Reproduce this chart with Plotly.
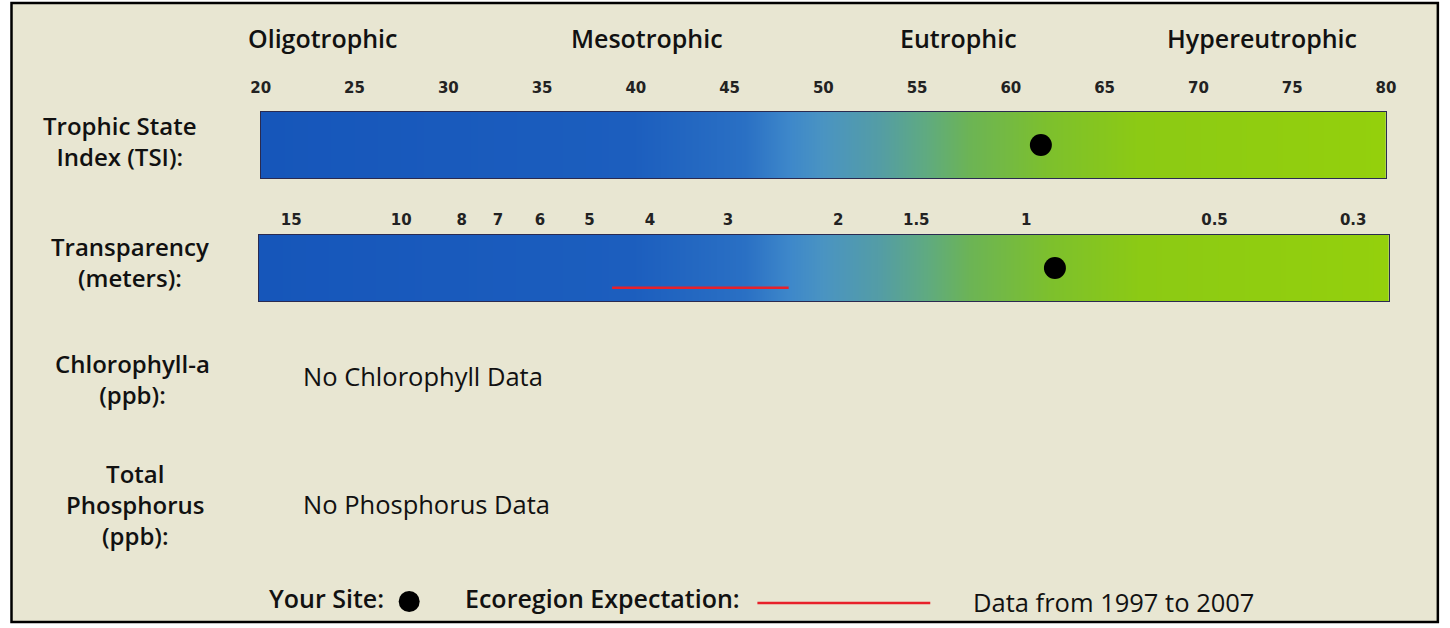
import numpy as np
import plotly.graph_objects as go

# --- data -------------------------------------------------------------
tsi_ticks = [20, 25, 30, 35, 40, 45, 50, 55, 60, 65, 70, 75, 80]
secchi_ticks = [15, 10, 8, 7, 6, 5, 4, 3, 2, 1.5, 1, 0.5, 0.3]
secchi_labels = ["15", "10", "8", "7", "6", "5", "4", "3", "2", "1.5", "1", "0.5", "0.3"]

trophic_classes = ["Oligotrophic", "Mesotrophic", "Eutrophic", "Hypereutrophic"]
trophic_label_pos = [23.3, 40.6, 57.2, 73.4]

site_tsi = 61.6
site_secchi = 0.9
ecoregion_secchi = [4.6, 2.4]

row_labels = ["Trophic State<br>Index (TSI):", "Transparency<br>(meters):",
              "Chlorophyll-a<br>(ppb):", "Total<br>Phosphorus<br>(ppb):"]
no_data_notes = ["No Chlorophyll Data", "No Phosphorus Data"]
period_note = "Data from 1997 to 2007"

# colour ramp along the TSI scale
ramp = [
    [0.00, "rgb(22,86,186)"],
    [0.33, "rgb(28,94,190)"],
    [0.43, "rgb(42,112,196)"],
    [0.47, "rgb(62,136,202)"],
    [0.50, "rgb(74,148,194)"],
    [0.55, "rgb(84,157,165)"],
    [0.59, "rgb(95,170,130)"],
    [0.63, "rgb(108,180,85)"],
    [0.70, "rgb(125,192,45)"],
    [0.78, "rgb(140,202,20)"],
    [1.00, "rgb(148,208,12)"],
]

W, H = 1450, 628
FONT = "Open Sans"


def px(x):
    # horizontal placement, tuned against the captured page
    return (x - 9) / 0.987 / W


def py(y):
    return 1 - y / H


fig = go.Figure()

# gradient bars (TSI scale, also under the transparency row)
fig.add_trace(go.Heatmap(x=tsi_ticks, y=[0.5], z=[tsi_ticks], colorscale=ramp,
                         zsmooth="best", showscale=False, hoverinfo="skip",
                         xaxis="x", yaxis="y"))
fig.add_trace(go.Heatmap(x=tsi_ticks, y=[0.5], z=[tsi_ticks], colorscale=ramp,
                         zsmooth="best", showscale=False, hoverinfo="skip",
                         xaxis="x2", yaxis="y2"))

# site markers
fig.add_trace(go.Scatter(x=[site_tsi], y=[0.5], mode="markers",
                         marker=dict(color="black", size=22),
                         showlegend=False, xaxis="x", yaxis="y"))
fig.add_trace(go.Scatter(x=[site_secchi], y=[0.5], mode="markers",
                         marker=dict(color="black", size=22),
                         showlegend=False, xaxis="x3", yaxis="y2"))
# ecoregion expectation
fig.add_trace(go.Scatter(x=ecoregion_secchi, y=[0.2, 0.2], mode="lines",
                         line=dict(color="#e8202a", width=2.5),
                         showlegend=False, xaxis="x3", yaxis="y2"))

tick_font = dict(family="DejaVu Sans", size=15, color="#222", weight="bold")
bar_line = dict(showline=True, linecolor="#2a2a50", linewidth=1, mirror=True)

fig.update_layout(
    width=W, height=H, autosize=False,
    margin=dict(l=0, r=0, t=0, b=0),
    paper_bgcolor="white",
    plot_bgcolor="rgba(0,0,0,0)",
    showlegend=False,
    xaxis=dict(domain=[px(260), px(1386)], range=[20, 80], side="top",
               tickvals=tsi_ticks, ticks="outside", ticklen=12,
               tickcolor="rgba(0,0,0,0)", tickfont=tick_font,
               showgrid=False, zeroline=False, fixedrange=True, **bar_line),
    yaxis=dict(domain=[py(178), py(112)], range=[0, 1], visible=True,
               showticklabels=False, ticks="", showgrid=False, zeroline=False,
               **bar_line),
    xaxis2=dict(domain=[px(258), px(1389)], range=[20, 80], anchor="y2",
                showticklabels=False, ticks="", showgrid=False, zeroline=False,
                **bar_line),
    xaxis3=dict(type="log", range=[np.log10(16.9), np.log10(0.263)],
                overlaying="x2", anchor="y2", side="top",
                tickvals=secchi_ticks, ticktext=secchi_labels,
                ticks="outside", ticklen=3, tickcolor="rgba(0,0,0,0)",
                tickfont=tick_font, showgrid=False, zeroline=False,
                showline=False),
    yaxis2=dict(domain=[py(301), py(235)], range=[0, 1], anchor="x2",
                showticklabels=False, ticks="", showgrid=False, zeroline=False,
                **bar_line),
)

# page frame
fig.add_shape(type="rect", xref="paper", yref="paper",
              x0=px(10.5), x1=px(1438), y0=py(622), y1=py(3),
              fillcolor="#e8e6d2", line=dict(color="black", width=2.5),
              layer="below")

# trophic class headings
for name, pos in zip(trophic_classes, trophic_label_pos):
    fig.add_annotation(x=pos, y=py(38), xref="x", yref="paper", text=name,
                       showarrow=False, xanchor="center", yanchor="middle",
                       font=dict(family=FONT, size=25, color="#111", weight=600))

# row labels
row_x = [119, 129, 132, 134]
row_y = [141, 262, 379, 504]
for text, x, y in zip(row_labels, row_x, row_y):
    fig.add_annotation(x=px(x), y=py(y), xref="paper", yref="paper", text=text,
                       showarrow=False, xanchor="center", yanchor="middle",
                       font=dict(family=FONT, size=24, color="#111", weight=600))

for text, y in zip(no_data_notes, [376, 504]):
    fig.add_annotation(x=px(300), y=py(y), xref="paper", yref="paper", text=text,
                       showarrow=False, xanchor="left", yanchor="middle",
                       font=dict(family=FONT, size=25.5, color="#111"))

# legend row
leg_font = dict(family=FONT, size=25, color="#111", weight=600)
fig.add_annotation(x=px(266), y=py(598), xref="paper", yref="paper",
                   text="Your Site:", showarrow=False, xanchor="left",
                   yanchor="middle", font=leg_font)
fig.add_shape(type="circle", xref="paper", yref="paper",
              x0=px(398), x1=px(419), y0=py(612), y1=py(591),
              fillcolor="black", line=dict(width=0))
fig.add_annotation(x=px(462), y=py(598), xref="paper", yref="paper",
                   text="Ecoregion Expectation:", showarrow=False, xanchor="left",
                   yanchor="middle", font=leg_font)
fig.add_shape(type="line", xref="paper", yref="paper",
              x0=px(757), x1=px(930), y0=py(603), y1=py(603),
              line=dict(color="#e8202a", width=2.5))
fig.add_annotation(x=px(971), y=py(602), xref="paper", yref="paper",
                   text=period_note, showarrow=False, xanchor="left",
                   yanchor="middle", font=dict(family=FONT, size=25.5, color="#111"))

fig.write_html(
    "out.html",
    config={"responsive": False, "displayModeBar": False},
    post_script="document.body.style.margin='0';",
)
